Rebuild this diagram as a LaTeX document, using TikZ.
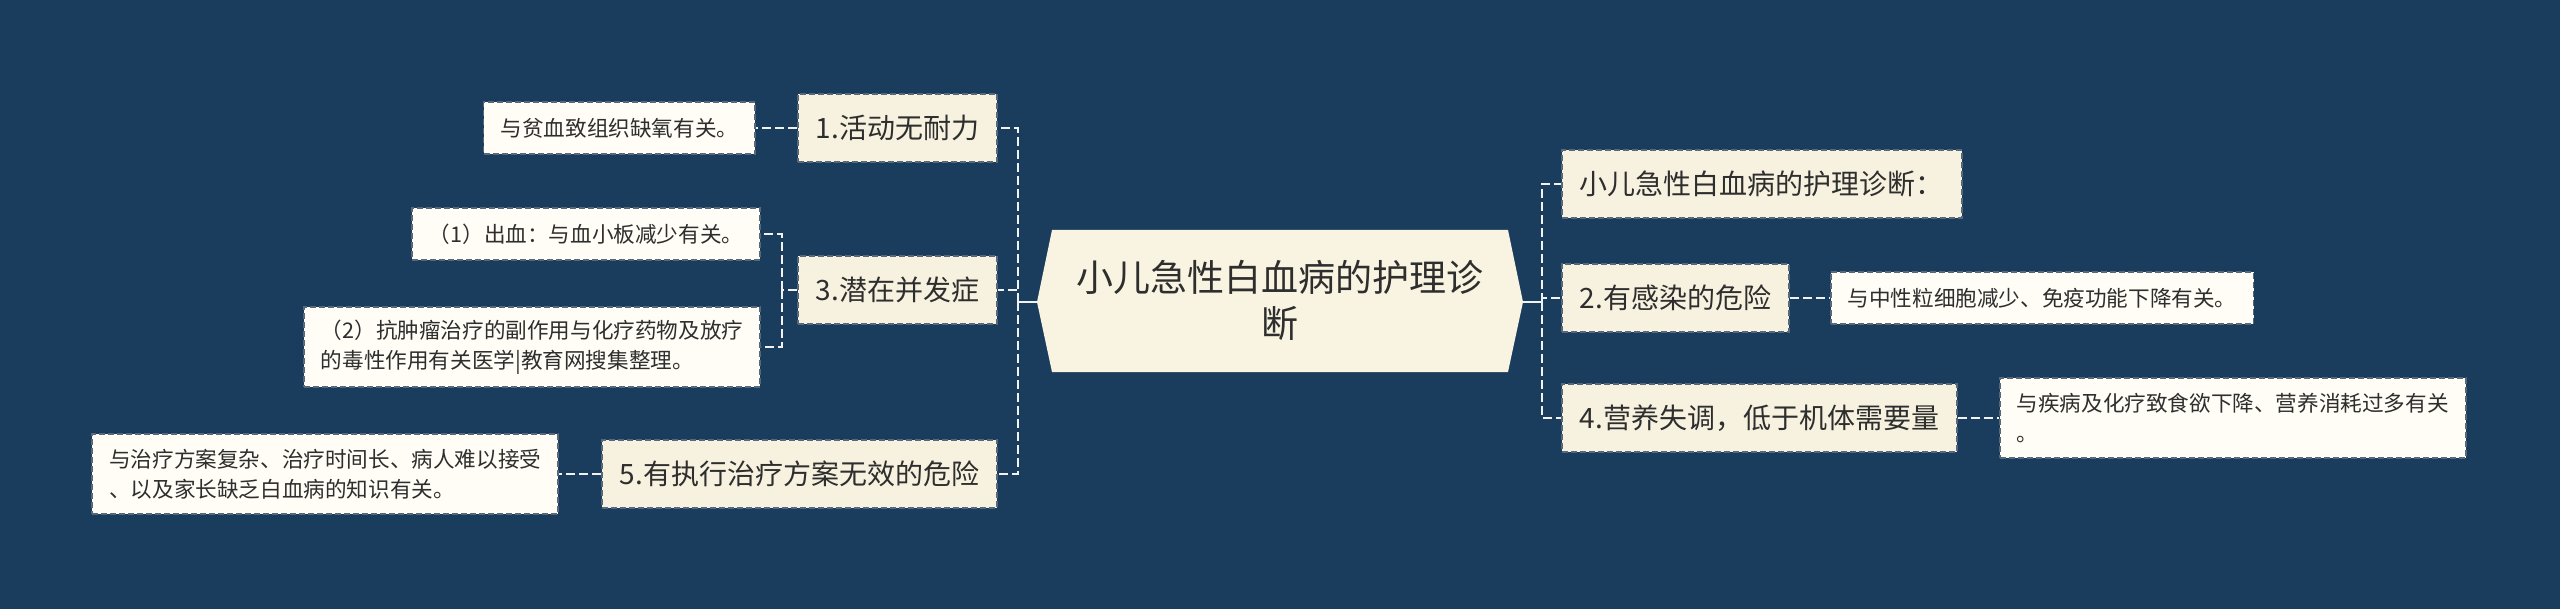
\documentclass[tikz,border=0pt]{standalone}
\usepackage{fontspec}
\setmainfont{Noto Sans CJK SC}
\usepackage{tikz}
\usetikzlibrary{calc}
\usepackage{color}

\definecolor{bgblue}{HTML}{1B3D5D}
\definecolor{rootfill}{HTML}{F8F4E1}
\definecolor{mainfill}{HTML}{F7F2DF}
\definecolor{leaffill}{HTML}{FFFDF5}
\definecolor{boxline}{HTML}{56687A}
\definecolor{txt}{HTML}{2E2E2E}
\definecolor{linkcol}{HTML}{F2F2F2}

\tikzset{
    topicbox/.style={draw=boxline, line width=0.8pt, dash pattern=on 3pt off 1.5pt,
        fill=mainfill, text=txt, font=\fontsize{14pt}{17pt}\selectfont,
        inner xsep=9pt, minimum height=34pt},
    leafbox/.style={topicbox, fill=leaffill, font=\fontsize{10.8pt}{15pt}\selectfont,
        inner xsep=8.5pt, minimum height=26pt, align=left},
    linkline/.style={linkcol, line width=1.2pt, dash pattern=on 4.5pt off 2pt},
}

\begin{document}
\begin{tikzpicture}[x=0.5pt,y=-0.5pt]
    % Draw background
    \fill[bgblue] (0,0) rectangle (2560,609);

    \coordinate (rootL) at (1037,302);
    \coordinate (rootR) at (1523,302);
    \coordinate (jL) at (1018,302);
    \coordinate (jR) at (1542,302);
    \coordinate (j3) at (782,290);

    \fill[rootfill] (rootL) -- (1052,230) -- (1508,230) -- (rootR) -- (1508,372) -- (1052,372) -- cycle;
    \node[text=txt,align=center,font=\fontsize{18.5pt}{23pt}\selectfont] (root) at (1280,300) {小儿急性白血病的护理诊\\断};

    % left side
    \node[topicbox,anchor=east] (t1) at (998,128) {1.活动无耐力};
    \node[topicbox,anchor=east] (t3) at (998,290) {3.潜在并发症};
    \node[topicbox,anchor=east] (t5) at (998,474) {5.有执行治疗方案无效的危险};

    \node[leafbox,anchor=east] (l1) at ($(t1.west)+(-41,0)$) {与贫血致组织缺氧有关。};
    \node[leafbox,anchor=east] (l3a) at (761,234) {（1）出血：与血小板减少有关。};
    \node[leafbox,anchor=east,minimum height=40pt] (l3b) at (761,347) {（2）抗肿瘤治疗的副作用与化疗药物及放疗\\的毒性作用有关医学|教育网搜集整理。};
    \node[leafbox,anchor=east,minimum height=40pt] (l5) at ($(t5.west)+(-42,0)$) {与治疗方案复杂、治疗时间长、病人难以接受\\、以及家长缺乏白血病的知识有关。};

    % right side
    \node[topicbox,anchor=west] (t0) at (1561,184) {小儿急性白血病的护理诊断：};
    \node[topicbox,anchor=west] (t2) at (1561,298) {2.有感染的危险};
    \node[topicbox,anchor=west] (t4) at (1561,418) {4.营养失调，低于机体需要量};

    \node[leafbox,anchor=west] (l2) at ($(t2.east)+(40,0)$) {与中性粒细胞减少、免疫功能下降有关。};
    \node[leafbox,anchor=west,minimum height=40pt] (l4) at ($(t4.east)+(41,0)$) {与疾病及化疗致食欲下降、营养消耗过多有关\\。};

    % links
    \draw[linkcol,line width=1.2pt] (rootL) -- (jL);
    \draw[linkcol,line width=1.2pt] (rootR) -- (jR);
    \draw[linkline] (jL) |- (t1.east);
    \draw[linkline] (jL) |- (t3.east);
    \draw[linkline] (jL) |- (t5.east);
    \draw[linkline] (jR) |- (t0.west);
    \draw[linkline] (jR) |- (t2.west);
    \draw[linkline] (jR) |- (t4.west);

    \draw[linkline] (t1.west) -- (l1.east);
    \draw[linkline] (t3.west) -- (j3);
    \draw[linkline] (j3) |- (l3a.east);
    \draw[linkline] (j3) |- (l3b.east);
    \draw[linkline] (t5.west) -- (l5.east);
    \draw[linkline] (t2.east) -- (l2.west);
    \draw[linkline] (t4.east) -- (l4.west);

\end{tikzpicture}
\end{document}
